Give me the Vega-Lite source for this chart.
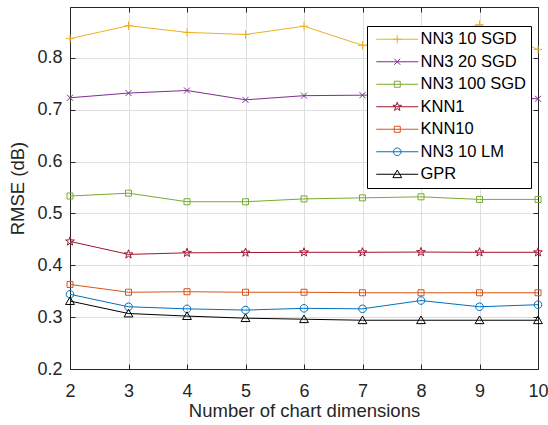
{
  "$schema": "https://vega.github.io/schema/vega-lite/v6.json",
  "width": 468,
  "height": 362,
  "autosize": "none",
  "padding": {"left": 70, "top": 7, "right": 10, "bottom": 56},
  "background": "white",
  "config": {
    "view": {"stroke": null},
    "axis": {
      "labelFont": "Liberation Sans",
      "titleFont": "Liberation Sans",
      "labelColor": "#262626",
      "titleColor": "#262626",
      "domainColor": "#262626",
      "tickColor": "#262626",
      "gridColor": "#dfdfdf",
      "labelFontSize": 18,
      "titleFontSize": 18.5,
      "titleFontWeight": "normal",
      "tickSize": -5,
      "domainWidth": 1,
      "tickWidth": 1,
      "labelFlush": false
    },
    "point": {"filled": false, "strokeWidth": 1, "size": 64, "opacity": 1}
  },
  "data": {
    "values": [
      {"dim": 2, "method": "NN3 10 SGD", "rmse": 0.837},
      {"dim": 3, "method": "NN3 10 SGD", "rmse": 0.862},
      {"dim": 4, "method": "NN3 10 SGD", "rmse": 0.849},
      {"dim": 5, "method": "NN3 10 SGD", "rmse": 0.845},
      {"dim": 6, "method": "NN3 10 SGD", "rmse": 0.861},
      {"dim": 7, "method": "NN3 10 SGD", "rmse": 0.824},
      {"dim": 8, "method": "NN3 10 SGD", "rmse": 0.835},
      {"dim": 9, "method": "NN3 10 SGD", "rmse": 0.864},
      {"dim": 10, "method": "NN3 10 SGD", "rmse": 0.816},
      {"dim": 2, "method": "NN3 20 SGD", "rmse": 0.723},
      {"dim": 3, "method": "NN3 20 SGD", "rmse": 0.732},
      {"dim": 4, "method": "NN3 20 SGD", "rmse": 0.737},
      {"dim": 5, "method": "NN3 20 SGD", "rmse": 0.719},
      {"dim": 6, "method": "NN3 20 SGD", "rmse": 0.727},
      {"dim": 7, "method": "NN3 20 SGD", "rmse": 0.728},
      {"dim": 8, "method": "NN3 20 SGD", "rmse": 0.730},
      {"dim": 9, "method": "NN3 20 SGD", "rmse": 0.725},
      {"dim": 10, "method": "NN3 20 SGD", "rmse": 0.721},
      {"dim": 2, "method": "NN3 100 SGD", "rmse": 0.5335},
      {"dim": 3, "method": "NN3 100 SGD", "rmse": 0.539},
      {"dim": 4, "method": "NN3 100 SGD", "rmse": 0.5225},
      {"dim": 5, "method": "NN3 100 SGD", "rmse": 0.5225},
      {"dim": 6, "method": "NN3 100 SGD", "rmse": 0.528},
      {"dim": 7, "method": "NN3 100 SGD", "rmse": 0.530},
      {"dim": 8, "method": "NN3 100 SGD", "rmse": 0.532},
      {"dim": 9, "method": "NN3 100 SGD", "rmse": 0.527},
      {"dim": 10, "method": "NN3 100 SGD", "rmse": 0.527},
      {"dim": 2, "method": "KNN1", "rmse": 0.446},
      {"dim": 3, "method": "KNN1", "rmse": 0.421},
      {"dim": 4, "method": "KNN1", "rmse": 0.424},
      {"dim": 5, "method": "KNN1", "rmse": 0.4245},
      {"dim": 6, "method": "KNN1", "rmse": 0.425},
      {"dim": 7, "method": "KNN1", "rmse": 0.425},
      {"dim": 8, "method": "KNN1", "rmse": 0.4255},
      {"dim": 9, "method": "KNN1", "rmse": 0.425},
      {"dim": 10, "method": "KNN1", "rmse": 0.425},
      {"dim": 2, "method": "KNN10", "rmse": 0.363},
      {"dim": 3, "method": "KNN10", "rmse": 0.348},
      {"dim": 4, "method": "KNN10", "rmse": 0.349},
      {"dim": 5, "method": "KNN10", "rmse": 0.348},
      {"dim": 6, "method": "KNN10", "rmse": 0.348},
      {"dim": 7, "method": "KNN10", "rmse": 0.347},
      {"dim": 8, "method": "KNN10", "rmse": 0.347},
      {"dim": 9, "method": "KNN10", "rmse": 0.347},
      {"dim": 10, "method": "KNN10", "rmse": 0.347},
      {"dim": 2, "method": "NN3 10 LM", "rmse": 0.344},
      {"dim": 3, "method": "NN3 10 LM", "rmse": 0.320},
      {"dim": 4, "method": "NN3 10 LM", "rmse": 0.316},
      {"dim": 5, "method": "NN3 10 LM", "rmse": 0.3136},
      {"dim": 6, "method": "NN3 10 LM", "rmse": 0.317},
      {"dim": 7, "method": "NN3 10 LM", "rmse": 0.316},
      {"dim": 8, "method": "NN3 10 LM", "rmse": 0.332},
      {"dim": 9, "method": "NN3 10 LM", "rmse": 0.320},
      {"dim": 10, "method": "NN3 10 LM", "rmse": 0.324},
      {"dim": 2, "method": "GPR", "rmse": 0.331},
      {"dim": 3, "method": "GPR", "rmse": 0.307},
      {"dim": 4, "method": "GPR", "rmse": 0.302},
      {"dim": 5, "method": "GPR", "rmse": 0.298},
      {"dim": 6, "method": "GPR", "rmse": 0.296},
      {"dim": 7, "method": "GPR", "rmse": 0.294},
      {"dim": 8, "method": "GPR", "rmse": 0.294},
      {"dim": 9, "method": "GPR", "rmse": 0.294},
      {"dim": 10, "method": "GPR", "rmse": 0.294}
    ]
  },
  "layer": [
    {
      "mark": {"type": "line", "strokeWidth": 1},
      "encoding": {
        "x": {
          "field": "dim", "type": "quantitative",
          "scale": {"domain": [2, 10], "nice": false, "zero": false},
          "axis": {"values": [2, 3, 4, 5, 6, 7, 8, 9, 10], "title": "Number of chart dimensions", "grid": true, "labelPadding": 18, "titlePadding": 1}
        },
        "y": {
          "field": "rmse", "type": "quantitative",
          "scale": {"domain": [0.2, 0.898], "nice": false, "zero": false},
          "axis": {"values": [0.2, 0.3, 0.4, 0.5, 0.6, 0.7, 0.8], "format": ".1f", "title": "RMSE (dB)", "grid": true, "labelPadding": 13, "titlePadding": 9}
        },
        "color": {
          "field": "method", "type": "nominal",
          "scale": {
            "domain": ["NN3 10 SGD", "NN3 20 SGD", "NN3 100 SGD", "KNN1", "KNN10", "NN3 10 LM", "GPR"],
            "range": ["#EDB120", "#7E2F8E", "#77AC30", "#A2142F", "#D95319", "#0072BD", "#000000"]
          },
          "legend": {
            "orient": "none", "legendX": 297, "legendY": 19, "title": null,
            "fillColor": "white", "strokeColor": "black", "padding": 5,
            "labelFont": "Liberation Sans", "labelFontSize": 16.5, "labelColor": "black",
            "symbolSize": 64, "symbolStrokeWidth": 1, "symbolType": "stroke",
            "rowPadding": 5.5, "labelOffset": 32,
            "encode": {
              "symbols": {
                "update": {
                  "fill": {"value": "transparent"},
                  "shape": {"signal": "datum.value === 'NN3 10 SGD' ? 'M-1,0L9.5,0M3.2,0L5.3,0M4.25,-1.05L4.25,1.05' : datum.value === 'NN3 20 SGD' ? 'M-1,0L9.5,0M3.5,-0.75L5,0.75M3.5,0.75L5,-0.75' : (datum.value === 'NN3 100 SGD' || datum.value === 'KNN10') ? 'M-1,0L9.5,0M3.5,-0.75L5,-0.75L5,0.75L3.5,0.75Z' : datum.value === 'KNN1' ? 'M-1,0L9.5,0M4.25,-1.15L4.515,-0.364L5.344,-0.355L4.678,0.139L4.926,0.93L4.25,0.45L3.574,0.93L3.822,0.139L3.156,-0.355L3.985,-0.364Z' : datum.value === 'NN3 10 LM' ? 'M-1,0L9.5,0M5.2,0A0.95,0.95 0 1,1 3.3,0A0.95,0.95 0 1,1 5.2,0Z' : 'M-1,0L9.5,0M4.25,-1.05L5.35,0.85L3.15,0.85Z'"}
                }
              }
            }
          }
        }
      }
    },
    {
      "transform": [{"filter": "datum.method === 'NN3 10 SGD'"}],
      "mark": {"type": "point", "shape": "M-1.05,0L1.05,0M0,-1.05L0,1.05"},
      "encoding": {
        "x": {"field": "dim", "type": "quantitative", "axis": {"orient": "top", "labels": false, "title": null, "grid": false, "values": [2, 3, 4, 5, 6, 7, 8, 9, 10]}},
        "y": {"field": "rmse", "type": "quantitative", "axis": {"orient": "right", "labels": false, "title": null, "grid": false, "values": [0.2, 0.3, 0.4, 0.5, 0.6, 0.7, 0.8]}},
        "color": {"field": "method", "type": "nominal", "legend": null}
      }
    },
    {
      "transform": [{"filter": "datum.method === 'NN3 20 SGD'"}],
      "mark": {"type": "point", "shape": "M-0.75,-0.75L0.75,0.75M-0.75,0.75L0.75,-0.75"},
      "encoding": {
        "x": {"field": "dim", "type": "quantitative", "axis": null},
        "y": {"field": "rmse", "type": "quantitative", "axis": null},
        "color": {"field": "method", "type": "nominal", "legend": null}
      }
    },
    {
      "transform": [{"filter": "datum.method === 'NN3 100 SGD' || datum.method === 'KNN10'"}],
      "mark": {"type": "point", "shape": "M-0.75,-0.75L0.75,-0.75L0.75,0.75L-0.75,0.75Z"},
      "encoding": {
        "x": {"field": "dim", "type": "quantitative", "axis": null},
        "y": {"field": "rmse", "type": "quantitative", "axis": null},
        "color": {"field": "method", "type": "nominal", "legend": null}
      }
    },
    {
      "transform": [{"filter": "datum.method === 'KNN1'"}],
      "mark": {"type": "point", "shape": "M0,-1.15L0.265,-0.364L1.094,-0.355L0.428,0.139L0.676,0.93L0,0.45L-0.676,0.93L-0.428,0.139L-1.094,-0.355L-0.265,-0.364Z"},
      "encoding": {
        "x": {"field": "dim", "type": "quantitative", "axis": null},
        "y": {"field": "rmse", "type": "quantitative", "axis": null},
        "color": {"field": "method", "type": "nominal", "legend": null}
      }
    },
    {
      "transform": [{"filter": "datum.method === 'NN3 10 LM'"}],
      "mark": {"type": "point", "shape": "M0.95,0A0.95,0.95 0 1,1 -0.95,0A0.95,0.95 0 1,1 0.95,0Z"},
      "encoding": {
        "x": {"field": "dim", "type": "quantitative", "axis": null},
        "y": {"field": "rmse", "type": "quantitative", "axis": null},
        "color": {"field": "method", "type": "nominal", "legend": null}
      }
    },
    {
      "transform": [{"filter": "datum.method === 'GPR'"}],
      "mark": {"type": "point", "shape": "M0,-1.05L1.1,0.85L-1.1,0.85Z"},
      "encoding": {
        "x": {"field": "dim", "type": "quantitative", "axis": null},
        "y": {"field": "rmse", "type": "quantitative", "axis": null},
        "color": {"field": "method", "type": "nominal", "legend": null}
      }
    }
  ],
  "resolve": {"axis": {"x": "independent", "y": "independent"}}
}
